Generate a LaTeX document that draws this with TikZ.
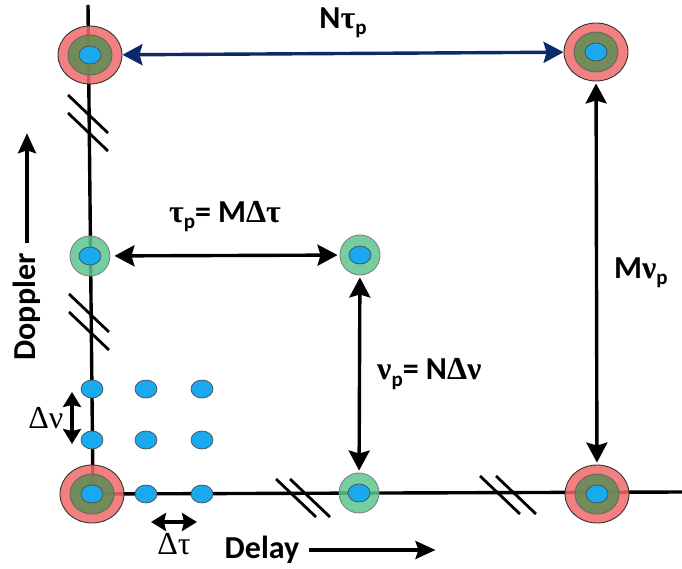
\documentclass[tikz,border=0pt]{standalone}
\usepackage{fontspec}
\setmainfont{Carlito}
\newfontfamily\grk{Liberation Serif}
\usepackage{tikz}
\usetikzlibrary{shapes.geometric, arrows.meta, positioning}

\definecolor{ringred}{HTML}{F06A6A}
\definecolor{ringgreen}{HTML}{5E8C52}
\definecolor{midgreen}{HTML}{5CC68E}
\definecolor{dotblue}{HTML}{18A9EE}
\definecolor{navy}{HTML}{0B2A6B}

\newcommand{\subp}{\raisebox{-0.4ex}{\fontsize{21}{21}\selectfont p}}

\begin{document}
\begin{tikzpicture}[
        x=1pt, y=-1pt,
        redring/.style={ellipse, draw=black!80, line width=0.9pt, fill=ringred, fill opacity=0.85, draw opacity=1, minimum width=64pt, minimum height=58pt, inner sep=0pt},
        greenring/.style={ellipse, draw=black!60, line width=0.9pt, fill=ringgreen, fill opacity=0.85, minimum width=44pt, minimum height=40pt, inner sep=0pt},
        midring/.style={ellipse, draw=black!50, line width=0.9pt, fill=midgreen, fill opacity=0.85, minimum width=40pt, minimum height=40pt, inner sep=0pt},
        dot/.style={ellipse, draw=black!70, line width=0.7pt, fill=dotblue, minimum width=22pt, minimum height=18pt, inner sep=0pt},
        axis/.style={line width=3.4pt},
        hatch/.style={line width=2.8pt},
        dbl/.style={line width=3.4pt, {Stealth[length=20pt,width=21pt,inset=3pt]}-{Stealth[length=20pt,width=21pt,inset=3pt]}},
        small/.style={line width=3.4pt, {Stealth[length=15pt,width=18pt,inset=2pt]}-{Stealth[length=15pt,width=18pt,inset=2pt]}},
        lbl/.style={font=\fontsize{32}{34}\selectfont\bfseries, inner sep=0pt},
        glbl/.style={font=\fontsize{32}{34}\selectfont\grk, inner sep=0pt}
        ]

        \useasboundingbox (0,0) rectangle (682,569);

        % axes
        \draw [axis] (88,5) -- (93,494) -- (682,492);

        % break marks
        \foreach \cx/\cy/\ox/\oy in {88/123/0/9, 89/322/0/9, 303/498/7/0, 508/495/8/0}
        {
            \draw [hatch] (\cx-\ox-20,\cy-\oy-19) -- (\cx-\ox+20,\cy-\oy+19);
            \draw [hatch] (\cx+\ox-20,\cy+\oy-19) -- (\cx+\ox+20,\cy+\oy+19);
        }

        % big targets
        \foreach \n/\px/\py in {tl/90/55, tr/596/52, bl/92/494, br/597/494}
        {
            \node (\n) [redring] at (\px,\py) {};
            \node [greenring] at (\n) {};
            \node [dot] at (\n) {};
        }

        % small targets
        \foreach \n/\px/\py in {ml/90/256, mm/360/255, mb/359/493}
        {
            \node (\n) [midring] at (\px,\py) {};
            \node [dot] at (\n) {};
        }

        % sampling grid
        \node (d1) [dot] at (92,389) {};
        \node (d2) [dot] at (146,389) {};
        \node (d3) [dot] at (202,389) {};
        \node (d4) [dot] at (92,440) {};
        \node (d5) [dot] at (146,440) {};
        \node (d6) [dot] at (202,440) {};
        \node (d7) [dot] at (146,494) {};
        \node (d8) [dot] at (202,494) {};

        % spacings
        \draw [dbl, navy] (tl) -- (tr) node [lbl, black, midway, above=14pt] {N{\grk τ}\subp};
        \draw [dbl, shorten <=4pt, shorten >=2pt] (ml) -- (mm) node [lbl, midway, above=22pt] {{\grk τ}\subp= M{\grk Δτ}};
        \draw [dbl, shorten <=2pt, shorten >=2pt] (tr) -- (br) node [lbl, midway, right=16pt] {M{\grk ν}\subp};
        \draw [dbl, shorten <=2pt, shorten >=2pt] (mm) -- (mb) node [lbl, midway, right=16pt] {{\grk ν}\subp= N{\grk Δν}};

        \coordinate (nu1) at ([xshift=-20pt, yshift=-3pt]d1.center);
        \coordinate (nu2) at ([xshift=-20pt, yshift=-4pt]d4.center);
        \draw [small] (nu1) -- (nu2) node [glbl, midway, left=7pt] {Δν};

        \coordinate (ta1) at ([xshift=5pt, yshift=-28pt]d7.center);
        \coordinate (ta2) at ([xshift=-5pt, yshift=-28pt]d8.center);
        \draw [small] (ta1) -- (ta2) node [glbl, midway, below=10pt] {Δτ};

        % axis names
        \node (dop) [lbl, rotate=90] at (27,307) {Doppler};
        \coordinate (dopend) at ([yshift=120pt]dop.east);
        \draw [line width=3.4pt, -{Stealth[length=20pt,width=18pt,inset=3pt]}] ([yshift=10pt]dop.east) -- (dopend);

        \node (del) [lbl] at (262,550) {Delay};
        \coordinate (delend) at ([xshift=136pt]del.east);
        \draw [line width=3.4pt, -{Stealth[length=20pt,width=18pt,inset=3pt]}] ([xshift=10pt]del.east) -- (delend);

    \end{tikzpicture}
\end{document}
